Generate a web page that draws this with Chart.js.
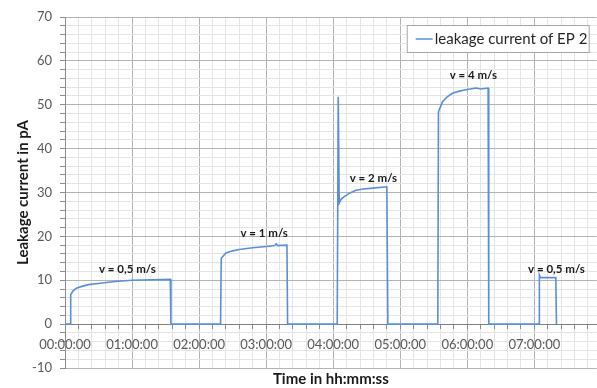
<!DOCTYPE html>
<html>
<head>
<meta charset="utf-8">
<script src="https://cdn.jsdelivr.net/npm/chart.js@4/dist/chart.umd.min.js"></script>
<style>
  html, body { margin: 0; padding: 0; background: #ffffff; }
  #wrap { width: 597px; height: 388px; position: relative; }
</style>
</head>
<body>
<div id="wrap"><canvas id="c"></canvas></div>
<script>
// Time in hours since start
const timeHours = [
  0, 0.083, 0.085, 0.12, 0.17, 0.25, 0.35, 0.52, 0.75, 1.0, 1.3, 1.57,
  1.58, 2.32,
  2.33, 2.4, 2.5, 2.6, 2.8, 3.0, 3.13, 3.15, 3.17, 3.31,
  3.32, 4.06,
  4.075, 4.09, 4.12, 4.17, 4.25, 4.34, 4.45, 4.59, 4.80,
  4.815, 5.56,
  5.57, 5.63, 5.7, 5.78, 5.88, 5.98, 6.13, 6.2, 6.31,
  6.32, 7.07,
  7.075, 7.09, 7.32,
  7.33
];
// Leakage current in pA
const leakageCurrent = [
  0, 0, 6.7, 7.6, 8.2, 8.6, 9.0, 9.3, 9.7, 10.0, 10.1, 10.2,
  0, 0,
  15.0, 16.2, 16.7, 17.0, 17.4, 17.7, 17.9, 18.3, 17.9, 18.0,
  0, 0,
  51.8, 27.6, 28.5, 29.1, 29.9, 30.5, 30.8, 31.0, 31.3,
  0, 0,
  48.4, 50.7, 51.8, 52.6, 53.1, 53.4, 53.8, 53.6, 53.8,
  0, 0,
  11.2, 10.6, 10.6,
  0
];
const seriesName = 'leakage current of EP 2';
const hourTicks = [0, 1, 2, 3, 4, 5, 6, 7];
const yTickLabels = [-10, 0, 10, 20, 30, 40, 50, 60, 70];
// Speed annotations (text, x in hours, y in pA)
const annoText = ['v = 0,5 m/s', 'v = 1 m/s', 'v = 2 m/s', 'v = 4 m/s', 'v = 0,5 m/s'];
const annoX = [0.93, 2.97, 4.6, 6.09, 7.33];
const annoY = [12.6, 20.8, 33.2, 56.6, 12.6];

const FONT = 'Lato, "Open Sans", sans-serif';
const fmtHour = h => String(h).padStart(2, '0') + ':00:00';

const annoPlugin = {
  id: 'anno',
  afterDatasetsDraw(chart) {
    const {ctx, scales: {x, y}} = chart;
    ctx.save();
    ctx.font = 'bold 11.5px ' + FONT;
    ctx.fillStyle = '#1a1a1a';
    ctx.textAlign = 'center';
    ctx.textBaseline = 'middle';
    annoText.forEach((t, i) => {
      ctx.fillText(t, x.getPixelForValue(annoX[i]), y.getPixelForValue(annoY[i]));
    });
    ctx.restore();
  }
};

const legendPlugin = {
  id: 'boxLegend',
  afterDraw(chart) {
    const {ctx, chartArea} = chart;
    const ds = chart.data.datasets[0];
    const w = 182, h = 27;
    const x0 = chartArea.right - 8 - w, y0 = chartArea.top + 8;
    ctx.save();
    ctx.fillStyle = '#ffffff';
    ctx.fillRect(x0, y0, w, h);
    ctx.strokeStyle = '#a6a6a6';
    ctx.lineWidth = 1;
    ctx.strokeRect(x0 + 0.5, y0 + 0.5, w, h);
    ctx.strokeStyle = ds.borderColor;
    ctx.lineWidth = 1.5;
    ctx.beginPath();
    ctx.moveTo(x0 + 9, y0 + h / 2 + 0.5);
    ctx.lineTo(x0 + 26, y0 + h / 2 + 0.5);
    ctx.stroke();
    ctx.font = '15px ' + FONT;
    ctx.fillStyle = '#262626';
    ctx.textBaseline = 'middle';
    ctx.textAlign = 'left';
    ctx.fillText(ds.label, x0 + 28, y0 + h / 2 + 1);
    ctx.restore();
  }
};

new Chart(document.getElementById('c'), {
  type: 'line',
  data: {
    datasets: [{
      label: seriesName,
      data: timeHours.map((t, i) => ({x: t, y: leakageCurrent[i]})),
      borderColor: '#5b8fd5',
      borderWidth: 1.6,
      pointRadius: 0,
      tension: 0,
      fill: false
    }]
  },
  options: {
    responsive: true,
    maintainAspectRatio: false,
    animation: false,
    layout: { padding: { top: 17, left: 0, right: 0, bottom: 0 } },
    plugins: { legend: { display: false }, tooltip: { enabled: false } },
    scales: {
      x: {
        type: 'linear',
        position: { y: 0 },
        min: 0,
        max: 7.93,
        afterBuildTicks: s => {
          const t = [];
          for (let i = 0; i * 0.2 <= 7.93; i++) t.push({ value: Math.round(i * 2) / 10 });
          s.ticks = t;
        },
        afterFit: s => { s.height = 0; },
        ticks: {
          autoSkip: false,
          maxRotation: 0,
          padding: 9,
          color: '#595959',
          font: { family: FONT, size: 13 },
          callback: v => hourTicks.includes(v) ? fmtHour(v) : ''
        },
        grid: {
          color: c => (c.tick && Number.isInteger(c.tick.value)) ? '#b3b3b3' : '#e4e4e4',
          tickColor: '#8c8c8c',
          tickLength: 4,
          lineWidth: 1
        },
        border: { display: true, color: '#808080', width: 1 },
        title: { display: false }
      },
      xt: {
        type: 'linear',
        position: 'bottom',
        min: 0,
        max: 7.93,
        ticks: { display: false },
        grid: { display: false, drawTicks: false },
        border: { display: false },
        afterFit: s => { s.height = 20; },
        title: {
          display: true,
          text: 'Time in hh:mm:ss',
          color: '#1a1a1a',
          font: { family: FONT, size: 15, weight: 'bold' },
          padding: { top: 0, bottom: 0 }
        }
      },
      y: {
        type: 'linear',
        min: -10,
        max: 70,
        afterBuildTicks: s => {
          const t = [];
          for (let v = -10; v <= 70; v += 2) t.push({ value: v });
          s.ticks = t;
        },
        afterFit: s => { s.width = 65; },
        ticks: {
          autoSkip: false,
          padding: 8,
          color: '#595959',
          font: { family: FONT, size: 13 },
          callback: v => yTickLabels.includes(v) ? String(v) : ''
        },
        grid: {
          color: c => (c.tick && c.tick.value % 10 === 0) ? '#b3b3b3' : '#e4e4e4',
          tickColor: '#8c8c8c',
          tickLength: 5
        },
        border: { display: true, color: '#8c8c8c', width: 1 },
        title: {
          display: true,
          text: 'Leakage current in pA',
          color: '#1a1a1a',
          font: { family: FONT, size: 15, weight: 'bold' },
          padding: { top: 14, bottom: 0 }
        }
      }
    }
  },
  plugins: [annoPlugin, legendPlugin]
});
</script>
</body>
</html>
